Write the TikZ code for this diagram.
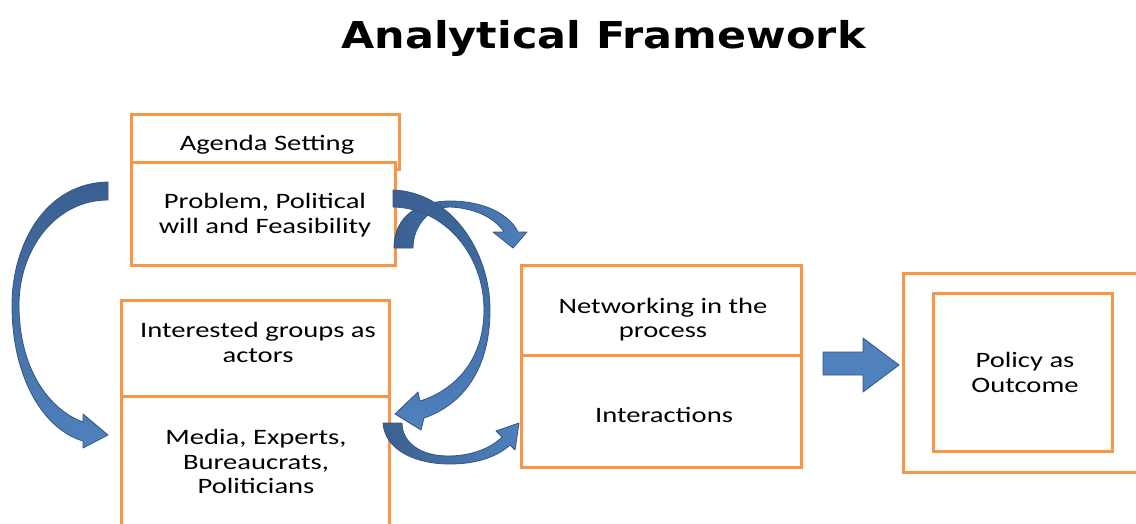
\documentclass[tikz,border=0pt]{standalone}
\usepackage{fontspec}
\setmainfont{Carlito}[FakeStretch=1.3]
\newfontfamily\headfont{DejaVu Sans}[FakeStretch=1.16]
\definecolor{boxorange}{RGB}{247,150,70}
\definecolor{arrowlight}{RGB}{79,129,189}
\definecolor{arrowdark}{RGB}{58,96,145}
\definecolor{arrowedge}{RGB}{52,86,130}
\begin{document}
\begin{tikzpicture}[x=1pt, y=-1pt,
    box/.style={draw=boxorange, line width=3pt, fill=white},
    txt/.style={font=\fontsize{22}{24.5}\selectfont, align=center, inner sep=0pt},
    bentarrow/.style={draw=arrowedge, line width=0.8pt, line join=round}]
    \clip (0,0) rectangle (1136,523);
    \fill[white] (0,0) rectangle (1136,523);

    \node[font=\headfont\bfseries\fontsize{37}{40}\selectfont, anchor=base] (title) at (603.5,48) {Analytical Framework};

    % boxes
    \draw[box] (131,114) rectangle (399,169);
    \draw[box] (131,162) rectangle (395,265);
    \draw[box] (121,300) rectangle (389,396);
    \draw[box] (121,396) rectangle (389,540);
    \draw[box] (521,265) rectangle (801,355);
    \draw[box] (521,355) rectangle (801,467);
    \draw[box] (903,273) rectangle (1160,472);
    \draw[box] (933,293) rectangle (1112,451);

    \node[txt, anchor=base] (agenda) at (267,150) {Agenda Setting};
    \node[txt] (problem) at (265,215) {Problem, Political\\will and Feasibility};
    \node[txt] (groups) at (258,342.5) {Interested groups as\\actors};
    \node[txt] (media) at (256,461.5) {Media, Experts,\\Bureaucrats,\\Politicians};
    \node[txt] (network) at (663,319.5) {Networking in the\\process};
    \node[txt, anchor=base] (interact) at (664,422) {Interactions};
    \node[txt] (policy) at (1025,372.5) {Policy as\\Outcome};

    % curved arrows
    \draw[bentarrow, top color=arrowdark, bottom color=arrowlight]
        (108,182) .. controls (45,183) and (12,245) .. (12,305)
        .. controls (12,380) and (45,430) .. (83,441)
        -- (83,448) -- (108,435) -- (83,414) -- (83,422)
        .. controls (50,410) and (19,370) .. (19,305)
        .. controls (19,250) and (55,200) .. (108,200) -- cycle;
    \draw[bentarrow, left color=arrowdark, right color=arrowlight]
        (394,248) .. controls (394,215) and (420,201) .. (450,201)
        .. controls (485,201) and (510,215) .. (518,232)
        -- (527,232) -- (513,248) -- (493,232) -- (504,232)
        .. controls (495,218) and (475,208) .. (450,207)
        .. controls (430,207) and (413,225) .. (413,248) -- cycle;
    \draw[bentarrow, top color=arrowdark, bottom color=arrowlight]
        (393,190) .. controls (450,192) and (490,250) .. (490,310)
        .. controls (490,370) and (462,405) .. (424,418)
        -- (421,430) -- (395,414) -- (418,392) -- (420,401)
        .. controls (455,390) and (484,360) .. (484,310)
        .. controls (484,255) and (445,208) .. (393,207) -- cycle;
    \draw[bentarrow, left color=arrowdark, right color=arrowlight]
        (383,423) .. controls (385,450) and (415,464) .. (450,464)
        .. controls (478,464) and (498,456) .. (510,445)
        -- (515,450) -- (519,423) -- (496,431) -- (502,437)
        .. controls (490,449) and (470,456) .. (448,456)
        .. controls (420,456) and (402,442) .. (402,423) -- cycle;

    % block arrow
    \draw[bentarrow, fill=arrowlight]
        (823,352) -- (863,352) -- (863,338) -- (899,365) -- (863,392)
        -- (863,375) -- (823,375) -- cycle;
\end{tikzpicture}
\end{document}
